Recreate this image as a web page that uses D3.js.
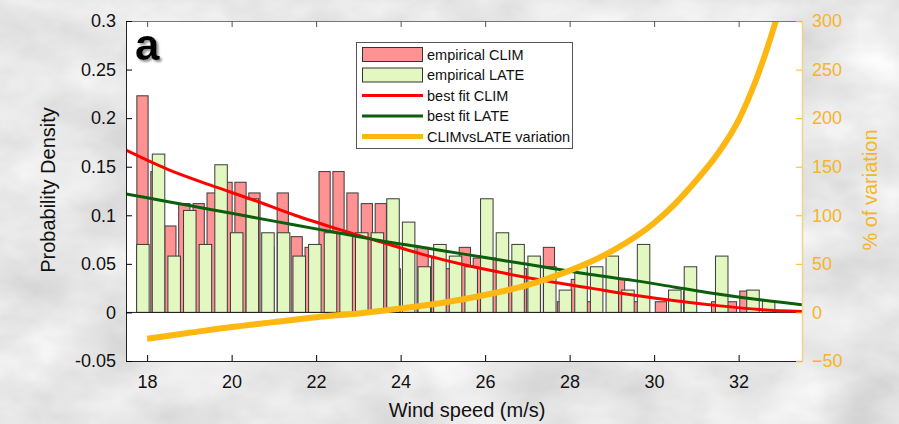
<!DOCTYPE html>
<html><head><meta charset="utf-8">
<script src="https://cdn.jsdelivr.net/npm/d3@7"></script>
<style>body{margin:0;padding:0;overflow:hidden;} svg{display:block;font-family:"Liberation Sans",Arial,sans-serif;}</style>
</head><body>
<svg id="chart" width="899" height="424"></svg>
<script>
// ---- data ----
const climCenters = [17.89,18.22,18.55,18.88,19.22,19.55,19.88,20.21,20.54,20.87,21.21,21.54,21.87,22.20,22.53,22.86,23.20,23.53,23.86,24.19,24.52,24.86,25.19,25.52,25.85,26.18,26.51,26.85,27.18,27.51,27.84,28.17,28.50,28.84,29.17,29.50,29.83,30.16,30.50,30.83,31.16,31.49,31.82,32.16];
const climValues  = [0.223,0.145,0.089,0.112,0.112,0.123,0.134,0.134,0.123,0.067,0.123,0.078,0.067,0.145,0.145,0.123,0.112,0.112,0.045,0.056,0.067,0.056,0.045,0.067,0.056,0.056,0.045,0.045,0.056,0.067,0.011,0.034,0.011,0,0.034,0.011,0,0.011,0.011,0.022,0,0.011,0.011,0.022];
const climBinWidth = 0.332;
const lateCenters = [17.90,18.27,18.64,19.01,19.38,19.75,20.12,20.49,20.86,21.23,21.60,21.97,22.34,22.71,23.08,23.45,23.82,24.19,24.56,24.93,25.30,25.67,26.04,26.41,26.78,27.16,27.53,27.90,28.27,28.64,29.01,29.38,29.75,30.12,30.49,30.86,31.23,31.60,31.97,32.34,32.71];
const lateValues  = [0.070,0.163,0.058,0.105,0.070,0.152,0.082,0.117,0.082,0.082,0.058,0.070,0.082,0.082,0.082,0.082,0.117,0.093,0.047,0.070,0.058,0.047,0.117,0.082,0.070,0.058,0.047,0.023,0.047,0.047,0.058,0.023,0.070,0,0.023,0.047,0,0.058,0,0.023,0.012];
const lateBinWidth = 0.370;
const fitWind = [17.5,18.5,19.5,20.5,21.5,22.5,23.5,24.5,25.5,26.5,27.5,28.5,29.5,30.5,31.5,32.5,33.5];
const fitClim = [0.167,0.147,0.131,0.116,0.100,0.086,0.073,0.060,0.049,0.040,0.032,0.025,0.018,0.012,0.007,0.003,0.001];
const fitLate = [0.122,0.114,0.106,0.098,0.090,0.082,0.074,0.067,0.060,0.053,0.046,0.039,0.033,0.026,0.019,0.013,0.008];
const varWind = [18.0,19.0,20.0,21.0,22.0,23.0,24.0,25.0,26.0,27.0,28.0,29.0,30.0,30.5,31.0,31.5,32.0,32.4,32.7,32.95];
const varPct  = [-27,-21,-15,-10,-5,-1,4,10,18,28,43,63,92,112,136,163,198,238,275,310];
const xTicks = [18,20,22,24,26,28,30,32];
const yTicks = [-0.05,0,0.05,0.1,0.15,0.2,0.25,0.3];
const yTickLabels = ["-0.05","0","0.05","0.1","0.15","0.2","0.25","0.3"];
const y2Ticks = [-50,0,50,100,150,200,250,300];
const legendLabels = ["empirical CLIM","empirical LATE","best fit CLIM","best fit LATE","CLIMvsLATE variation"];

// ---- style ----
const C = {pink:"#ff9393", green:"#e2f8c0", red:"#ff0000", dgreen:"#0b5e0b", orange:"#fdb713", orangeTxt:"#f6b42a", barStroke:"#3a3a3a"};
const L = 126, R = 802, T = 21, B = 361;

const svg = d3.select("#chart");
const defs = svg.append("defs");
const f = defs.append("filter").attr("id","marble").attr("x",0).attr("y",0).attr("width","100%").attr("height","100%");
f.append("feTurbulence").attr("type","fractalNoise").attr("baseFrequency","0.012 0.02").attr("numOctaves",4).attr("seed",7);
f.append("feColorMatrix").attr("type","matrix").attr("values","0.26 0.26 0 0 0.54  0.26 0.26 0 0 0.54  0.26 0.26 0 0 0.54  0 0 0 0 1");
const sh = defs.append("filter").attr("id","shadow").attr("x","-20%").attr("y","-20%").attr("width","150%").attr("height","150%");
sh.append("feDropShadow").attr("dx",2).attr("dy",2).attr("stdDeviation",1).attr("flood-color","#888").attr("flood-opacity",0.9);
defs.append("clipPath").attr("id","plotclip").append("rect").attr("x",L).attr("y",T).attr("width",R-L).attr("height",B-T);

svg.append("rect").attr("width",899).attr("height",424).attr("fill","#d0d0d0");
svg.append("rect").attr("width",899).attr("height",424).attr("filter","url(#marble)");
svg.append("rect").attr("x",L).attr("y",T).attr("width",R-L).attr("height",B-T).attr("fill","#fff");

const x = d3.scaleLinear().domain([17.5,33.5]).range([L,R]);
const y = d3.scaleLinear().domain([-0.05,0.3]).range([B,T]);
const y2 = d3.scaleLinear().domain([-50,300]).range([B,T]);

const plot = svg.append("g").attr("clip-path","url(#plotclip)");
const climW = climBinWidth*0.8, lateW = lateBinWidth*0.8;
plot.append("g").selectAll("rect").data(climCenters).join("rect")
  .attr("x",(d)=>x(d-climW/2)).attr("width",(d)=>x(d+climW/2)-x(d-climW/2))
  .attr("y",(d,i)=>y(climValues[i])).attr("height",(d,i)=>y(0)-y(climValues[i]))
  .attr("fill",C.pink).attr("stroke",C.barStroke).attr("stroke-width",1);
plot.append("g").selectAll("rect").data(lateCenters).join("rect")
  .attr("x",(d)=>x(d-lateW/2)).attr("width",(d)=>x(d+lateW/2)-x(d-lateW/2))
  .attr("y",(d,i)=>y(lateValues[i])).attr("height",(d,i)=>y(0)-y(lateValues[i]))
  .attr("fill",C.green).attr("stroke",C.barStroke).attr("stroke-width",1);

plot.append("line").attr("x1",L).attr("x2",R).attr("y1",y(0)).attr("y2",y(0)).attr("stroke","#222").attr("stroke-width",1);

const lineFit = d3.line().x((d,i)=>x(fitWind[i])).y(d=>y(d)).curve(d3.curveMonotoneX);
plot.append("path").attr("d",lineFit(fitClim)).attr("fill","none").attr("stroke",C.red).attr("stroke-width",3);
plot.append("path").attr("d",lineFit(fitLate)).attr("fill","none").attr("stroke",C.dgreen).attr("stroke-width",3);
const lineVar = d3.line().x((d,i)=>x(varWind[i])).y(d=>y2(d)).curve(d3.curveMonotoneX);
plot.append("path").attr("d",lineVar(varPct)).attr("fill","none").attr("stroke",C.orange).attr("stroke-width",6);

// axes
const fs = "18px";
const gx = svg.append("g").attr("transform",`translate(0,${B})`)
  .call(d3.axisBottom(x).tickValues(xTicks).tickSize(-6).tickPadding(14).tickFormat(d3.format("d")));
gx.select(".domain").attr("stroke","#222");
gx.selectAll("text").attr("font-size",fs).attr("fill","#111").attr("font-family","Liberation Sans, Arial");

const gt = svg.append("g").attr("transform",`translate(0,${T})`)
  .call(d3.axisTop(x).tickValues(xTicks).tickSize(-6).tickFormat(""));
gt.select(".domain").attr("stroke","#777");
gt.selectAll("line").attr("stroke","#555");

const gy = svg.append("g").attr("transform",`translate(${L},0)`)
  .call(d3.axisLeft(y).tickValues(yTicks).tickSize(-6).tickPadding(10).tickFormat((d,i)=>yTickLabels[i]));
gy.select(".domain").attr("stroke","#222");
gy.selectAll("text").attr("font-size",fs).attr("fill","#111").attr("font-family","Liberation Sans, Arial");

const gy2 = svg.append("g").attr("transform",`translate(${R},0)`)
  .call(d3.axisRight(y2).tickValues(y2Ticks).tickSize(-6).tickPadding(10).tickFormat(d3.format("d")));
gy2.select(".domain").attr("stroke","#f2d488").attr("stroke-width",1.5);
gy2.selectAll("line").attr("stroke",C.orange);
gy2.selectAll("text").attr("font-size",fs).attr("fill",C.orangeTxt).attr("font-family","Liberation Sans, Arial");

// axis titles
svg.append("text").attr("x",(L+R)/2+3).attr("y",417).attr("text-anchor","middle").attr("font-size","20px").attr("fill","#111").text("Wind speed (m/s)");
svg.append("text").attr("transform","translate(55,190) rotate(-90)").attr("text-anchor","middle").attr("font-size","20px").attr("fill","#111").text("Probability Density");
svg.append("text").attr("transform","translate(877,190) rotate(-90)").attr("text-anchor","middle").attr("font-size","20px").attr("fill",C.orangeTxt).text("% of variation");

// panel letter
svg.append("text").attr("x",135).attr("y",60).attr("font-size","44px").attr("font-weight","bold").attr("fill","#000").attr("filter","url(#shadow)").text("a");

// legend
const lg = svg.append("g");
lg.append("rect").attr("x",356.5).attr("y",42.5).attr("width",216).attr("height",106).attr("fill","#fff").attr("stroke","#555").attr("stroke-width",1);
const rowY = [54.5,75,95.5,116,136.5];
const kinds = [{t:"patch",c:C.pink},{t:"patch",c:C.green},{t:"line",c:C.red,w:3},{t:"line",c:C.dgreen,w:3},{t:"line",c:C.orange,w:5}];
kinds.forEach((k,i)=>{
  if(k.t==="patch") lg.append("rect").attr("x",362.5).attr("y",rowY[i]-7).attr("width",60).attr("height",14).attr("fill",k.c).attr("stroke","#333");
  else lg.append("line").attr("x1",362).attr("x2",423).attr("y1",rowY[i]).attr("y2",rowY[i]).attr("stroke",k.c).attr("stroke-width",k.w);
  lg.append("text").attr("x",427).attr("y",rowY[i]).attr("dy","0.35em").attr("font-size","14.5px").attr("fill","#111").text(legendLabels[i]);
});
</script>
</body></html>
